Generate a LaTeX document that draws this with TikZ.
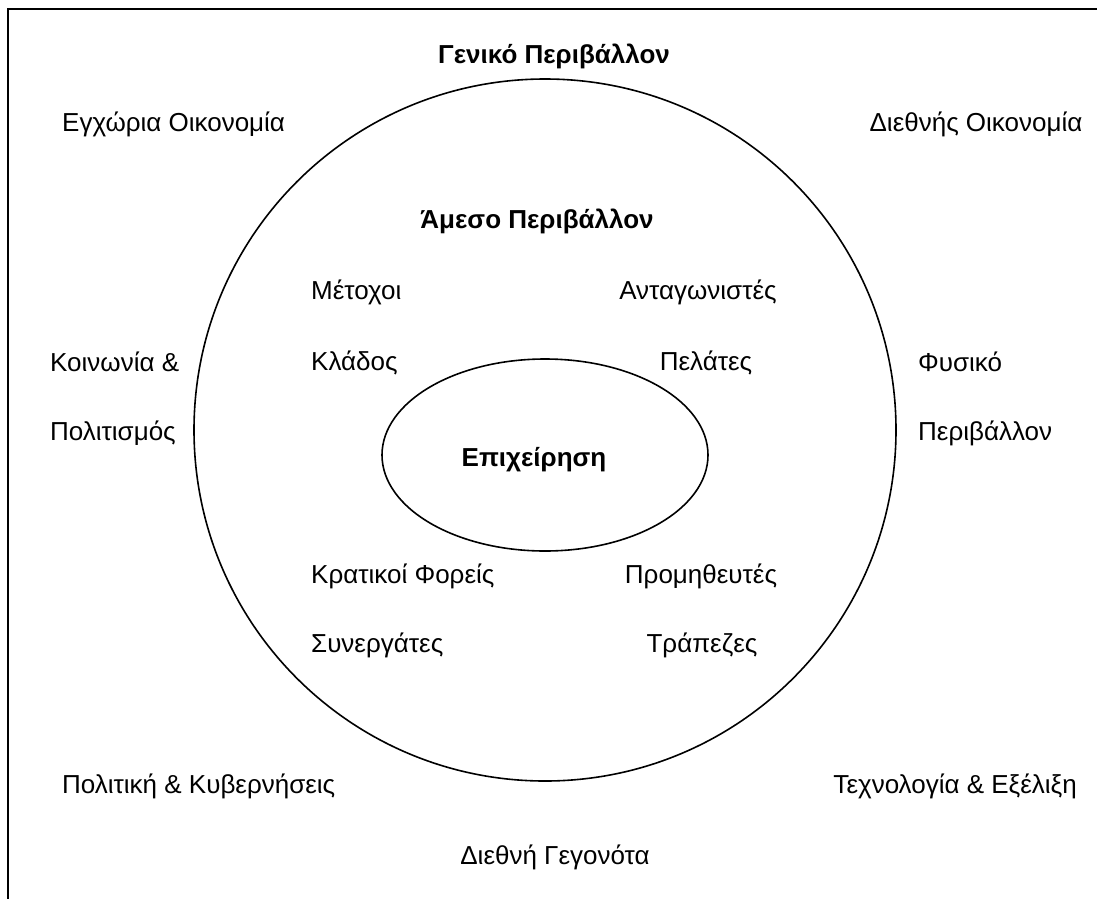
\documentclass[tikz,border=0pt]{standalone}
\usepackage{fontspec}
\setmainfont{Liberation Sans}
\begin{document}
\begin{tikzpicture}[x=1pt,y=-1pt,
  lbl/.style={font=\fontsize{26}{30}\selectfont, inner sep=0pt},
  ttl/.style={font=\fontsize{26}{30}\selectfont\bfseries, inner sep=0pt},
  frame/.style={line width=2pt},
  ring/.style={line width=1.6pt}]
\useasboundingbox (0,0) rectangle (1097,898);
% outer frame (open at the bottom and right)
\draw[frame] (8,900) -- (8,9) -- (1100,9);
% general environment circle and firm ellipse
\draw[ring] (545,430) circle[radius=351];
\draw[ring] (545,455) ellipse[x radius=163, y radius=96];
% general environment
\node[ttl, anchor=base] (gen) at (554,63) {Γενικό Περιβάλλον};
\node[lbl, anchor=base west] (egx) at (62,131) {Εγχώρια Οικονομία};
\node[lbl, anchor=base] (dieth) at (976,131) {Διεθνής Οικονομία};
\node[lbl, anchor=base west] (koin) at (50,371) {Κοινωνία \&};
\node[lbl, anchor=base west] (polit) at (50,440) {Πολιτισμός};
\node[lbl, anchor=base west] (fys) at (918,371) {Φυσικό};
\node[lbl, anchor=base west] (periv) at (918,440) {Περιβάλλον};
\node[lbl, anchor=base west] (kyv) at (62,793) {Πολιτική \& Κυβερνήσεις};
\node[lbl, anchor=base east] (tech) at (1077,793) {Τεχνολογία \& Εξέλιξη};
\node[lbl, anchor=base] (geg) at (555,864) {Διεθνή Γεγονότα};
% immediate environment
\node[ttl, anchor=base] (ames) at (537,228) {Άμεσο Περιβάλλον};
\node[lbl, anchor=base west] (metox) at (311,299) {Μέτοχοι};
\node[lbl, anchor=base] (antag) at (698,299) {Ανταγωνιστές};
\node[lbl, anchor=base west] (klad) at (311,370) {Κλάδος};
\node[lbl, anchor=base] (pel) at (706,370) {Πελάτες};
\node[lbl, anchor=base west] (krat) at (311,583) {Κρατικοί Φορείς};
\node[lbl, anchor=base] (prom) at (701,583) {Προμηθευτές};
\node[lbl, anchor=base west] (syn) at (311,652) {Συνεργάτες};
\node[lbl, anchor=base] (trap) at (702,652) {Τράπεζες};
% the firm
\node[ttl, anchor=base] (epix) at (534,466) {Επιχείρηση};
\end{tikzpicture}
\end{document}
